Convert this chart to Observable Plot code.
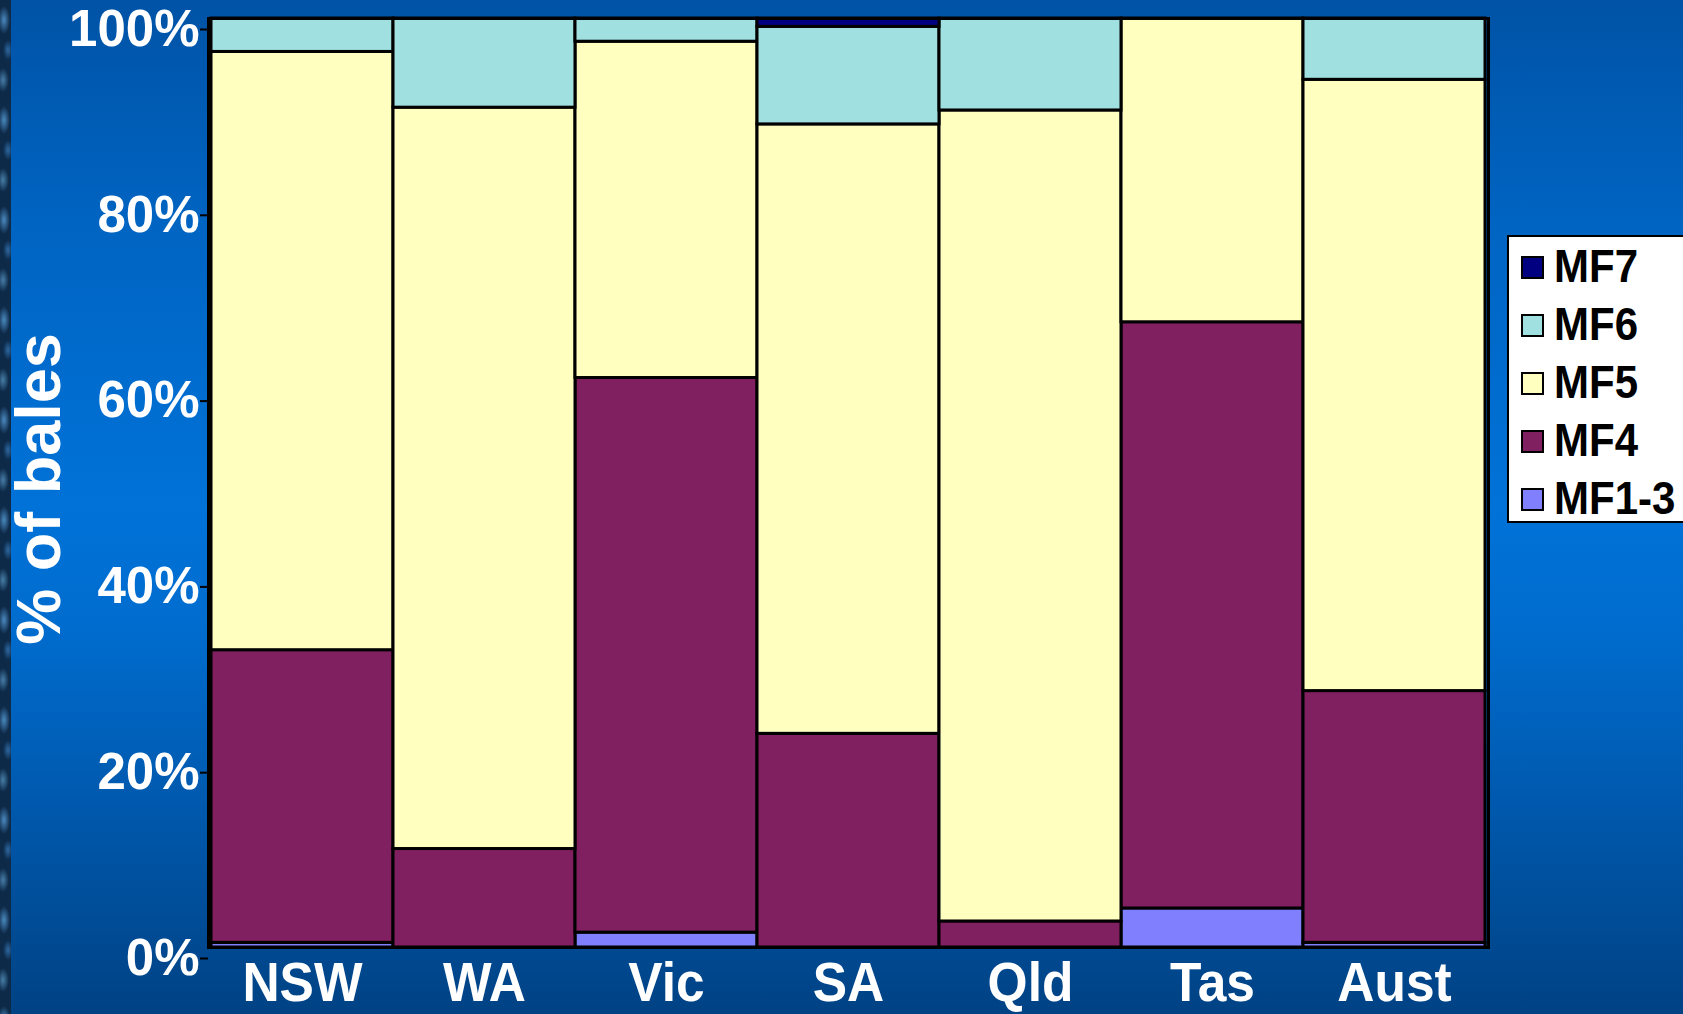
<!DOCTYPE html>
<html>
<head>
<meta charset="utf-8">
<script src="https://cdn.jsdelivr.net/npm/d3@7"></script>
<script src="https://cdn.jsdelivr.net/npm/@observablehq/plot@0.6"></script>
<style>
  html, body { margin: 0; padding: 0; }
  body {
    width: 1683px; height: 1014px; overflow: hidden; position: relative;
    background: linear-gradient(to bottom, #0053a6 0%, #0064c2 22%, #0072d8 50%, #006cce 62%, #0058ac 80%, #004284 100%);
    font-family: "Liberation Sans", Arial, sans-serif;
  }
  #strip {
    position: absolute; left: 0; top: 0; width: 11px; height: 1014px;
    background-color: #0d2a48;
    background-image:
      radial-gradient(ellipse 6px 14px at 4px 20px, rgba(90,160,220,0.8), transparent),
      radial-gradient(ellipse 5px 10px at 8px 50px, rgba(60,130,200,0.7), transparent),
      radial-gradient(ellipse 6px 12px at 3px 80px, rgba(110,180,230,0.6), transparent);
    background-size: 11px 100px;
  }
  #chart { position: absolute; left: 0; top: 0; }
  #legend {
    position: absolute; left: 1507px; top: 235px; width: 180px; height: 288px;
    background: #ffffff; border: 2px solid #000; box-sizing: border-box;
    padding-top: 1px;
  }
  .item { display: flex; align-items: center; height: 58px; padding-left: 12px; }
  .sw { width: 23px; height: 23px; border: 2px solid #000; box-sizing: border-box; margin-right: 10px; }
  .lab { font-weight: bold; font-size: 42px; color: #000; line-height: 1; transform: scaleY(1.08); }
</style>
</head>
<body>
<div id="strip"></div>
<div id="chart"></div>
<div id="legend"></div>
<script>
// Categories (states) and fibre-diameter grades, stacked bottom to top
const regions = ["NSW", "WA", "Vic", "SA", "Qld", "Tas", "Aust"];
const grades = ["MF1-3", "MF4", "MF5", "MF6", "MF7"];
const gradeColors = ["#8080ff", "#802060", "#ffffc0", "#a0e0e0", "#000080"];

// Percent of bales per grade, per region
const mf13 = [0.5, 0.0, 1.6, 0.0, 0.0, 4.2, 0.5];
const mf4  = [31.5, 10.6, 59.7, 23.0, 2.8, 63.1, 27.1];
const mf5  = [64.4, 79.8, 36.2, 65.6, 87.3, 32.7, 65.8];
const mf6  = [3.6, 9.6, 2.5, 10.5, 9.9, 0.0, 6.6];
const mf7  = [0.0, 0.0, 0.0, 0.9, 0.0, 0.0, 0.0];

const yTicks = [0, 20, 40, 60, 80, 100];
const yLabel = "% of bales";

const series = [mf13, mf4, mf5, mf6, mf7];
const rows = [];
grades.forEach((g, gi) => {
  regions.forEach((r, ri) => {
    const v = series[gi][ri];
    if (v > 0) rows.push({region: r, grade: g, value: v});
  });
});

const W = 1683, H = 1014;
const chart = Plot.plot({
  width: W,
  height: H,
  marginLeft: 208,
  marginRight: 195,
  marginTop: 18,
  marginBottom: 67,
  style: {background: "transparent", fontFamily: "'Liberation Sans', Arial, sans-serif", fontWeight: "bold"},
  x: {domain: regions, padding: 0, label: null},
  y: {domain: [0, 100], label: null},
  color: {domain: grades, range: gradeColors},
  marks: [
    Plot.barY(rows, Plot.stackY({order: grades}, {
      x: "region", y: "value", z: "grade", fill: "grade",
      stroke: "#000", strokeWidth: 3, inset: 0
    })),
    Plot.frame({stroke: "#000", strokeWidth: 3}),
    Plot.axisY({
      ticks: yTicks, tickFormat: d => d + "%",
      tickSize: 8, tickPadding: 1, stroke: "#000", strokeWidth: 2,
      fill: "#ffffff", fontSize: 51, fontWeight: "bold", dy: 11, label: null,
      ariaLabel: "y-axis"
    }),
    Plot.axisX({
      tickSize: 0, tickPadding: 14, fill: "#ffffff",
      fontSize: 56, fontWeight: "bold", label: null,
      ariaLabel: "x-axis"
    }),
    Plot.text([yLabel], {
      frameAnchor: "left", textAnchor: "middle", dx: -169, dy: 6, rotate: -90,
      fontSize: 63, fontWeight: "bold", fill: "#ffffff"
    })
  ]
});
document.getElementById("chart").appendChild(chart);

// Condense the category labels horizontally (the original uses a narrow bold face)
function squeeze(selector, sx, sy) {
  chart.querySelectorAll(selector).forEach(t => {
    const tr = t.getAttribute("transform");
    if (tr) {
      t.setAttribute("transform", tr + ` scale(${sx},${sy})`);
    } else {
      const x = +t.getAttribute("x") || 0, y = +t.getAttribute("y") || 0;
      t.removeAttribute("x"); t.removeAttribute("y");
      t.setAttribute("transform", `translate(${x},${y}) scale(${sx},${sy})`);
    }
  });
}
squeeze('g[aria-label="x-axis tick label"] text', 0.92, 1);

// Legend (top to bottom: MF7 ... MF1-3)
const legend = document.getElementById("legend");
grades.slice().reverse().forEach(g => {
  const i = grades.indexOf(g);
  const item = document.createElement("div");
  item.className = "item";
  const sw = document.createElement("div");
  sw.className = "sw";
  sw.style.background = gradeColors[i];
  const lab = document.createElement("div");
  lab.className = "lab";
  lab.textContent = g;
  item.appendChild(sw);
  item.appendChild(lab);
  legend.appendChild(item);
});
</script>
</body>
</html>
